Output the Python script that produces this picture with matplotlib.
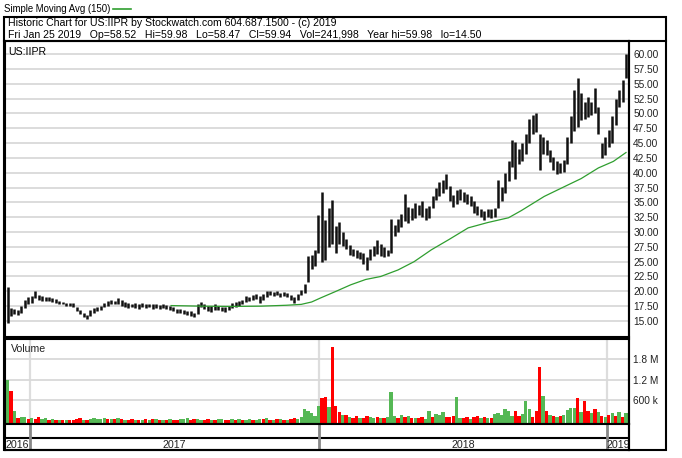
import numpy as np
import matplotlib
matplotlib.use("Agg")
import matplotlib.pyplot as plt
from matplotlib.lines import Line2D
from matplotlib.patches import Rectangle

plt.rcParams['font.family'] = ['Liberation Sans', 'DejaVu Sans']

# ---- data: 3-trading-day bars (high / low), Dec 2016 .. Jan 25 2019 ----
hi = [20.8, 17.2, 17.0, 16.8, 17.6, 18.6, 19.0, 19.2, 20.1, 19.4,
      19.2, 19.0, 19.1, 18.8, 18.7, 18.3, 18.2, 18.1, 18.0, 18.1,
      17.4, 16.9, 16.4, 16.0, 16.8, 17.2, 17.3, 17.6, 18.0, 18.3,
      18.6, 18.4, 18.8, 18.5, 18.2, 18.0, 17.9, 18.0, 17.8, 18.0,
      17.9, 17.8, 17.9, 17.8, 17.7, 17.8, 17.7, 17.5, 17.3, 17.0,
      17.1, 16.8, 16.7, 16.6, 16.4, 17.8, 18.2, 17.9, 17.6, 17.5,
      17.8, 17.6, 17.4, 17.3, 17.6, 18.0, 18.2, 18.4, 18.6, 19.2,
      19.0, 19.3, 19.6, 19.2, 19.6, 20.0, 20.1, 19.9, 20.0, 19.8,
      19.9, 19.7, 19.4, 19.0, 19.6, 20.2, 21.3, 26.0, 26.2, 27.0,
      32.8, 36.8, 32.0, 34.0, 35.4, 31.0, 31.7, 30.0, 28.9, 27.8,
      27.2, 27.0, 26.6, 26.4, 25.8, 27.2, 27.6, 28.6, 28.0, 27.4,
      27.0, 32.2, 31.2, 32.2, 33.0, 36.4, 34.2, 34.0, 34.9, 34.6,
      35.3, 34.0, 34.4, 36.0, 37.4, 38.4, 38.8, 39.7, 37.8, 36.2,
      37.0, 37.3, 36.8, 36.4, 36.0, 35.2, 34.4, 33.8, 33.5, 33.9,
      33.8, 34.0, 38.8, 37.6, 40.0, 42.0, 45.5, 45.2, 44.0, 45.0,
      46.6, 49.0, 49.7, 50.0, 46.5, 46.0, 45.5, 43.8, 42.7, 42.0,
      41.6, 42.2, 46.0, 49.5, 53.9, 55.9, 53.4, 52.0, 52.8, 52.0,
      54.2, 51.0, 45.0, 46.0, 47.2, 49.5, 52.5, 54.0, 55.6, 59.98]
lo = [14.6, 15.9, 16.2, 16.0, 16.4, 17.2, 17.8, 18.0, 18.8, 18.5,
      18.4, 18.4, 18.3, 18.2, 18.1, 17.8, 17.8, 17.6, 17.6, 17.4,
      16.6, 16.2, 15.7, 15.3, 15.8, 16.4, 16.6, 16.9, 17.3, 17.6,
      17.8, 17.8, 17.9, 17.6, 17.4, 17.2, 17.3, 17.2, 17.1, 17.3,
      17.2, 17.3, 17.1, 17.2, 17.1, 17.2, 17.0, 16.9, 16.6, 16.4,
      16.3, 16.1, 16.0, 15.9, 15.6, 16.2, 17.3, 17.0, 16.6, 16.5,
      16.8, 16.9, 16.6, 16.5, 16.9, 17.2, 17.4, 17.6, 17.9, 18.2,
      18.3, 18.5, 18.7, 18.1, 18.6, 19.1, 19.3, 19.2, 19.3, 19.1,
      19.2, 19.0, 18.5, 18.1, 18.6, 19.3, 19.8, 21.5, 23.8, 24.2,
      26.5, 25.0, 25.3, 27.5, 28.0, 26.5, 28.0, 27.6, 27.2, 26.2,
      25.9, 25.6, 25.5, 24.6, 23.6, 25.3, 26.0, 26.3, 26.0, 25.8,
      25.9, 26.5, 29.4, 30.0, 30.8, 31.8, 31.6, 32.0, 32.4, 32.8,
      32.5, 32.0, 32.4, 34.0, 35.4, 36.0, 36.6, 37.2, 35.2, 34.2,
      34.8, 35.4, 35.0, 34.8, 34.4, 33.2, 32.8, 32.6, 32.0, 32.6,
      32.4, 32.6, 34.0, 35.3, 36.5, 38.6, 41.0, 39.0, 41.5, 42.0,
      43.2, 45.0, 46.6, 46.8, 40.4, 43.2, 43.0, 41.8, 40.4, 39.7,
      40.0, 40.2, 41.5, 45.0, 47.0, 47.7, 48.9, 49.0, 49.4, 49.8,
      50.0, 46.6, 42.5, 43.0, 44.3, 45.0, 48.0, 51.0, 52.0, 56.0]

# volume (thousands of shares) per 3-day bar and up/down colour
vol_k = [1200, 880, 300, 90, 110, 130, 70, 100, 60, 110,
         50, 90, 40, 50, 30, 40, 20, 30, 40, 25,
         60, 80, 40, 30, 50, 100, 60, 70, 80, 50,
         60, 70, 80, 50, 30, 40, 70, 30, 40, 20,
         50, 40, 60, 70, 30, 40, 30, 50, 40, 30,
         60, 70, 80, 40, 50, 60, 40, 30, 50, 40,
         30, 70, 60, 30, 40, 70, 40, 50, 30, 40,
         60, 30, 40, 70, 50, 80, 40, 30, 50, 60,
         40, 30, 50, 90, 60, 120, 360, 280, 230, 150,
         430, 660, 700, 400, 2150, 430, 250, 180, 190, 120,
         90, 140, 100, 80, 150, 110, 90, 130, 80, 100,
         120, 850, 140, 90, 190, 110, 150, 80, 100, 90,
         120, 70, 280, 130, 200, 180, 250, 130, 120, 140,
         700, 100, 90, 120, 70, 110, 150, 90, 120, 100,
         80, 200, 220, 180, 350, 300, 150, 300, 160, 200,
         580, 350, 120, 280, 1590, 720, 300, 180, 160, 120,
         150, 190, 330, 370, 380, 680, 250, 580, 300, 220,
         340, 260, 150, 120, 180, 230, 150, 250, 130, 220]
vol_dir = list(
    "grgrggrgrr" "ggrgrgrgrr" "rrgrgggggr" "grgrgrrgrg"
    "rgrgrgrgrr" "gggrrggrrg" "rggrrgrgrg" "grggrgrgrg"
    "rgrrgggggg" "grrgrrrgrg" "rrgrrggrgr" "gggrgrgrgr"
    "rggrgggrrr" "ggrrgrrgrg" "rggggggrrg" "ggrrrgrgrg"
    "rggggrgrrg" "rgrgrgrgrg")

# 150-day simple moving average, by trading day
ma_day = [143, 169, 195, 221, 243, 256, 265, 273, 285, 299, 312, 325, 340,
          354, 369, 384, 401, 418, 436, 447, 467, 484, 499, 514, 527, 538]
ma_val = [17.6, 17.5, 17.45, 17.5, 17.65, 17.8, 18.2, 18.9, 19.9, 21.1, 22.0,
          22.5, 23.6, 25.0, 27.0, 28.7, 30.7, 31.6, 32.4, 33.6, 36.0, 37.6,
          39.0, 40.8, 41.9, 43.4]

year_labels = ['2016', '2017', '2018', '2019']
year_start_day = [0, 21, 272, 522]
price_ticks = [15.0, 17.5, 20.0, 22.5, 25.0, 27.5, 30.0, 32.5, 35.0, 37.5,
               40.0, 42.5, 45.0, 47.5, 50.0, 52.5, 55.0, 57.5, 60.0]
vol_ticks = [600e3, 1.2e6, 1.8e6]
vol_tick_labels = ['600 k', '1.2 M', '1.8 M']

header1 = "Historic Chart for US:IIPR by Stockwatch.com 604.687.1500 - (c) 2019"
header2 = ("Fri Jan 25 2019   Op=58.52   Hi=59.98   Lo=58.47   Cl=59.94   "
           "Vol=241,998   Year hi=59.98   lo=14.50")

# ---- layout ----
W, H = 682, 458
fig = plt.figure(figsize=(W / 100, H / 100), dpi=100)

def add_ax(l, t, r, b):
    return fig.add_axes([l / W, 1 - b / H, (r - l) / W, (b - t) / H])

def fl(x0, y0, x1, y1, **kw):
    fig.add_artist(Line2D([x0 / W, x1 / W], [1 - y0 / H, 1 - y1 / H],
                          transform=fig.transFigure, **kw))

XMIN, XMAX = -1.2, 540.6
FS = 7.3
bars_x = np.arange(len(hi)) * 3 + 1
bounds = [d - 0.5 for d in year_start_day[1:]]

# price panel
ax_p = add_ax(5, 41, 629, 337)
ax_p.vlines(bars_x, lo, hi, color='#111111', lw=1.8)
ax_p.plot(ma_day, ma_val, color='#2f9e2f', lw=0.9)
ax_p.set_xlim(XMIN, XMAX)
ax_p.set_ylim(12.3, 62.2)
ax_p.set_yticks(price_ticks)
ax_p.set_yticklabels([f"{t:.2f}" for t in price_ticks])
ax_p.yaxis.tick_right()
ax_p.tick_params(axis='y', length=0, pad=3, labelsize=FS, colors='#222222')
ax_p.set_xticks([])
ax_p.grid(axis='y', color='#d9d9d9', lw=1.3)
ax_p.set_axisbelow(True)
ax_p.text(0.005, 0.98, "US:IIPR", transform=ax_p.transAxes, fontsize=FS + 0.3,
          va='top', ha='left')

# volume panel
ax_v = add_ax(5, 338.5, 629, 424)
base = -87e3
vcol = ['#ff0000' if d == 'r' else '#55b855' for d in vol_dir]
vols = np.array(vol_k) * 1e3
ax_v.bar(bars_x, vols - base, bottom=base, width=2.9, color=vcol, lw=0)
ax_v.set_xlim(XMIN, XMAX)
ax_v.set_ylim(base, 2.41e6)
ax_v.set_yticks(vol_ticks)
ax_v.set_yticklabels(vol_tick_labels)
ax_v.yaxis.tick_right()
ax_v.tick_params(axis='y', length=0, pad=3, labelsize=FS, colors='#222222')
ax_v.set_xticks([])
ax_v.grid(axis='y', color='#d9d9d9', lw=1.3)
for b in bounds:
    ax_v.axvline(b, color='#dddddd', lw=1.6, zorder=0)
ax_v.set_axisbelow(True)
ax_v.text(0.01, 0.93, "Volume", transform=ax_v.transAxes, fontsize=FS + 0.3,
          va='top', ha='left', color='#222222')

# year band
ax_y = add_ax(5, 424, 629, 450)
ax_y.set_xlim(XMIN, XMAX)
ax_y.set_ylim(26, 0)
ax_y.axhline(14, color='black', lw=1.5)
for b in bounds:
    ax_y.axvline(b, color='#888888', lw=2)
edges = [XMIN] + bounds + [XMAX]
for i, lab in enumerate(year_labels):
    ax_y.text((edges[i] + edges[i + 1]) / 2, 20.5, lab, ha='center',
              va='center', fontsize=FS + 0.4, color='#222222')
ax_y.set_xticks([])
ax_y.set_yticks([])

for ax in (ax_p, ax_v, ax_y):
    for s in ax.spines.values():
        s.set_linewidth(1.5)
        s.set_color('black')

# outer frame and header
fig.add_artist(Rectangle((3.5 / W, 1 - 450 / H), (666 - 3.5) / W, (450 - 17) / H,
                         transform=fig.transFigure, fill=False, lw=1.5,
                         edgecolor='black'))
fl(3.5, 40.8, 666, 40.8, color='black', lw=1.5)
fl(629, 41, 629, 450, color='black', lw=1.5)
fig.text(8 / W, 1 - 23.5 / H, header1, fontsize=FS + 0.3, va='center', ha='left')
fig.text(8 / W, 1 - 34.5 / H, header2, fontsize=FS + 0.3, va='center', ha='left')
fig.text(4 / W, 1 - 8.5 / H, "Simple Moving Avg (150)", fontsize=FS - 0.4,
         va='center', ha='left')
fl(113, 9, 131, 9, color='#2f9e2f', lw=1.2)

fig.savefig("out.png", dpi=100)
